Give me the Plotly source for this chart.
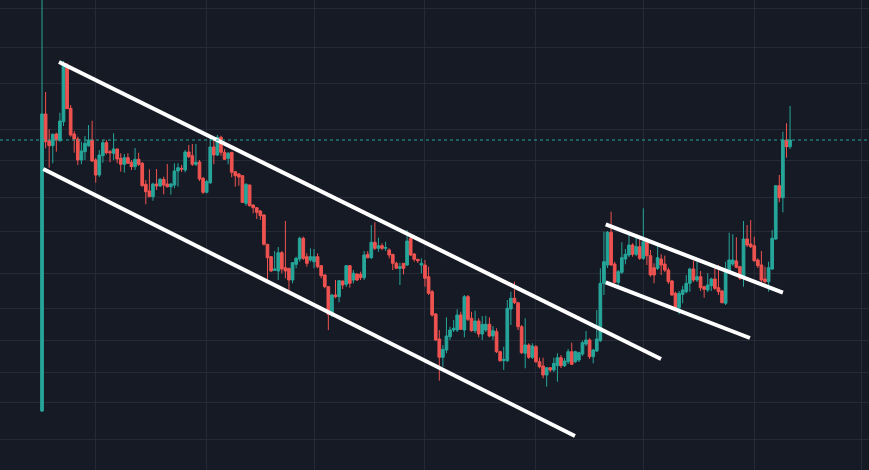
import pandas as pd
import plotly.graph_objects as go

# Daily candles, 2023-04-16 .. 2023-11-11 (price in arbitrary units)
dates = pd.date_range("2023-04-16", periods=210, freq="D")

opens = [59, 356, 329.3, 324.3, 336, 329.3, 348.3, 405, 361.7, 336,
         331, 310, 318.3, 324.3, 330, 310, 295, 314.3, 327.3, 318.3,
         316.7, 321, 311.7, 305.7, 312.3, 307.7, 303.3, 310.7, 306.7, 285.7,
         279, 273.3, 286, 284, 290.7, 286, 283.3, 285, 299, 301.7,
         300, 318, 314.3, 305.7, 308, 291.7, 277.7, 287.3, 323, 315,
         332.7, 317.7, 311.7, 317.7, 298.3, 296, 294.3, 266.7, 285, 265,
         262.3, 259, 255, 225.7, 213.3, 199.7, 199, 217.3, 202.3, 201.7,
         190, 205.7, 211, 231.7, 213.3, 210, 208.3, 213.3, 204.3, 195,
         183.3, 155, 175, 173.3, 189, 185.7, 204.3, 190, 196, 195.7,
         192.3, 215.7, 212.3, 227.7, 221.7, 224.3, 221.7, 220, 215.7, 206.7,
         201.7, 206.7, 205, 231.7, 216, 210.7, 205, 205, 193.3, 178.3,
         156, 131, 112.7, 120, 133.3, 140, 140, 155, 140, 173.3,
         151.7, 139.3, 149, 136, 140, 145.7, 134, 138.3, 118.3, 109.3,
         109.3, 161, 171.7, 167.3, 143.3, 116.7, 125, 112.7, 123.3, 108.3,
         104, 95, 102.3, 100, 104.3, 112.3, 104.3, 108.3, 118.3, 108.3,
         110, 116, 126, 130, 113.3, 119, 129.3, 186.7, 205, 237.7,
         206, 187.7, 197.7, 211, 215, 225, 215.7, 223.3, 211.7, 227.7,
         214.3, 202.3, 201.7, 211, 206, 200, 189, 176.7, 162.3, 175.7,
         178.3, 186.7, 201, 190, 193.3, 183.3, 180, 184.3, 191, 182.3,
         179, 166.7, 197.7, 206, 209, 203.3, 192.3, 231, 226, 224.3,
         210, 205, 191, 188.3, 201, 231, 284.3, 272.3, 330, 323.3]

highs = [500, 378, 340.7, 336.5, 337.3, 357.3, 409, 407, 365, 339,
         333.3, 328.3, 334, 345, 349.3, 312, 320, 330, 330, 320,
         336.7, 321.5, 316.7, 316, 316.7, 310, 322, 317.3, 308, 290,
         300.7, 287.3, 301, 292, 293.3, 306, 287, 306.7, 306.7, 305,
         320, 325, 326, 326, 310, 293, 290, 333.3, 331.7, 335,
         334.3, 321, 318, 318, 299, 297, 295, 286.7, 285.5, 265.7,
         263, 260, 256, 226, 214, 219, 223, 219, 249, 202,
         208, 213.3, 233.3, 233.3, 216.7, 221.7, 221, 216.7, 205, 195.7,
         184, 176, 190, 190, 189.5, 205, 205, 200, 196.7, 198.3,
         219, 219, 245, 247.7, 232.3, 226.7, 228.3, 221.7, 216, 208.3,
         207.3, 207, 240, 235, 216.7, 211, 211.7, 210, 203.3, 180,
         157, 140, 125, 152.7, 143.3, 150, 160.7, 158.3, 175, 175,
         158.3, 159.3, 151.7, 154, 154.3, 152.7, 144, 141.7, 119.3, 123.3,
         170, 178.3, 188.3, 168.3, 145, 151.7, 126.7, 126.7, 125, 112.3,
         112.3, 102.7, 102.7, 112.3, 116.7, 115, 112, 121, 127.3, 119.3,
         118.3, 129.3, 139, 131.7, 121, 160, 201.7, 238.3, 239, 258.3,
         208.3, 200, 227.7, 221, 235.7, 226.7, 232.3, 231, 261.7, 231.7,
         220, 206.7, 226.7, 215.7, 214.3, 202.3, 190, 178.3, 179, 184.3,
         195, 202.3, 209.3, 208.3, 199, 184.3, 196.7, 192.3, 202.3, 205,
         180, 208.3, 237.3, 235.7, 232.7, 204.3, 249, 245, 250, 233.3,
         211.7, 219, 203.3, 208.3, 240, 285, 295, 338.3, 346.7, 364]

lows = [58, 321.7, 302.3, 306.7, 318.3, 328.3, 344, 361, 333.3, 317.3,
        305, 305.7, 310, 323.3, 308, 287.3, 293, 307.3, 315.7, 307.7,
        310, 306.7, 298.3, 297.3, 306, 300, 300, 304, 283.3, 265.7,
        273, 269.3, 280, 283, 275.7, 282.5, 275.3, 281.7, 283.3, 298,
        297.7, 312, 304, 304, 289, 276, 276.7, 286, 305.7, 314,
        314.3, 310, 305.7, 292.7, 283.3, 284.3, 267, 264.3, 263.5, 256.7,
        251, 250, 224.5, 188.3, 198, 199, 190, 196.7, 191.7, 178.3,
        186.7, 201.7, 208.3, 210, 203.3, 208.3, 201.7, 201.7, 191.7, 181.7,
        140, 153, 171.7, 167.7, 181, 183, 182.3, 186.7, 189, 190,
        190, 211.7, 211, 220, 218.3, 220, 219, 211.7, 200, 201,
        185, 195.7, 204, 214, 208.3, 207, 196.7, 183.3, 175, 153.3,
        129, 89.3, 103.3, 116.7, 130, 138, 138, 140, 132.7, 149,
        138.3, 137, 132.7, 130, 138, 132.7, 130, 117, 108.3, 100,
        108, 145, 166, 140, 116, 101.7, 111, 111, 107, 101.7,
        91.7, 83.3, 98, 98, 88.3, 102, 103, 106, 105, 107,
        108, 114, 124, 111, 106.7, 118, 128, 175, 202, 204.3,
        186.7, 184.3, 196, 205.7, 213, 213.3, 214, 210, 210, 205,
        193.3, 186.7, 200, 195, 198, 186, 174.3, 161, 155.7, 166.7,
        176.7, 178.3, 188, 188, 179, 172.3, 178, 179, 180, 175,
        166.7, 165, 196, 204, 201.7, 190, 183.3, 223, 222, 208,
        202, 188, 186.7, 178.3, 200, 230, 267.7, 257.7, 312.3, 321]

closes = [356, 328.3, 324.3, 335.7, 330, 349, 405, 361.3, 335, 331,
          310, 319, 326.7, 330, 309, 295, 315, 327.3, 317.3, 317.3,
          321, 311, 305.7, 312.3, 306.7, 303.3, 310.7, 305.7, 284.3, 278.3,
          273.3, 286, 284, 290.7, 285, 283.3, 286, 299, 302.3, 301,
          318, 313.3, 305.7, 307.7, 291, 277.7, 288.3, 323, 315, 332.7,
          317.7, 310.7, 316.7, 297.7, 294.3, 293, 267.7, 285.7, 264.3, 262.3,
          257.7, 254.3, 225.7, 212.3, 199, 201, 217.3, 201, 199, 190,
          207.3, 211.7, 231.7, 211.7, 206.7, 213.3, 213.3, 203.3, 194.3, 183.3,
          155.7, 175, 173.3, 189.3, 185, 204.3, 186.7, 196.7, 190, 192.3,
          215, 212.3, 227.7, 221.7, 224.3, 221.7, 222.5, 215, 206.7, 201.7,
          203.3, 201.7, 229, 215, 210.7, 209.3, 206.7, 191.7, 176.7, 155,
          130, 112.7, 120.7, 134, 140, 141.7, 155, 140.7, 173.3, 150.7,
          139.3, 149, 136, 145.7, 145.7, 134, 139.3, 118.3, 109.3, 110.7,
          161.7, 171.7, 167.3, 143.3, 117.3, 125, 112.7, 124, 108.3, 103.3,
          95, 102.3, 100, 106.7, 112.3, 104.3, 109, 118.3, 105.7, 118.3,
          117.3, 127.3, 130, 113.3, 120, 131, 186.7, 208.3, 237.7, 205,
          187.7, 198.3, 212.3, 215.7, 225, 215.7, 223.3, 211.7, 228.3, 214.3,
          195, 195, 212.3, 205, 200, 188.3, 175, 162.3, 176.7, 180,
          186.7, 201, 190, 193.3, 182.3, 180.7, 185, 191, 181.7, 178.3,
          167.3, 197.7, 210, 210, 202.7, 191.7, 231, 225, 223.3, 209.3,
          204.3, 190, 188.3, 202.3, 231.7, 284.3, 272.3, 330, 323.3, 330]

# Hand-drawn trend lines (start/end date, start/end price)
channel_upper_x = ["2023-04-20 18:00", "2023-10-05 22:48"]
channel_upper_y = [408, 111]
channel_lower_x = ["2023-04-16 08:40", "2023-09-11 21:40"]
channel_lower_y = [301, 34]
flag_upper_x = ["2023-09-20 12:00", "2023-11-09 00:00"]
flag_upper_y = [245.7, 177.3]
flag_lower_x = ["2023-09-20 12:00", "2023-10-30 19:00"]
flag_lower_y = [187.7, 132]

price_grid = [461.7, 422.7, 386.7, 340.7, 309.7, 272.7, 238.3, 196.7,
              161.7, 129.7, 97.7, 67.7, 30.7]

BG = "#161a25"
GRID = "#262a36"
UP = "#26a69a"
DOWN = "#ef5350"

fig = go.Figure()
fig.add_trace(go.Candlestick(
    x=dates, open=opens, high=highs, low=lows, close=closes,
    increasing=dict(line=dict(color=UP, width=1), fillcolor=UP),
    decreasing=dict(line=dict(color=DOWN, width=1), fillcolor=DOWN),
    whiskerwidth=0, showlegend=False, hoverinfo="skip",
))

for lx, ly in [(channel_upper_x, channel_upper_y), (channel_lower_x, channel_lower_y),
               (flag_upper_x, flag_upper_y), (flag_lower_x, flag_lower_y)]:
    fig.add_trace(go.Scatter(x=lx, y=ly, mode="lines",
                             line=dict(color="#ffffff", width=4),
                             showlegend=False, hoverinfo="skip"))

fig.add_hline(y=closes[-1], line=dict(color=UP, width=1, dash="dot"))

fig.update_layout(
    width=869, height=470,
    margin=dict(l=0, r=0, t=0, b=0),
    paper_bgcolor=BG, plot_bgcolor=BG,
    showlegend=False,
    boxgap=0.25, boxgroupgap=0,
    xaxis=dict(type="date", range=["2023-04-04 06:14", "2023-12-03 01:26"],
               tick0="2023-05-01", dtick="M1", showticklabels=False,
               showgrid=True, gridcolor=GRID, gridwidth=1, zeroline=False,
               rangeslider=dict(visible=False), fixedrange=True),
    yaxis=dict(range=[0, 470], tickmode="array", tickvals=price_grid,
               showticklabels=False, showgrid=True, gridcolor=GRID, gridwidth=1,
               zeroline=False, fixedrange=True),
)

fig.write_html("out.html", config={"displayModeBar": False},
               post_script="document.body.style.margin='0';")
